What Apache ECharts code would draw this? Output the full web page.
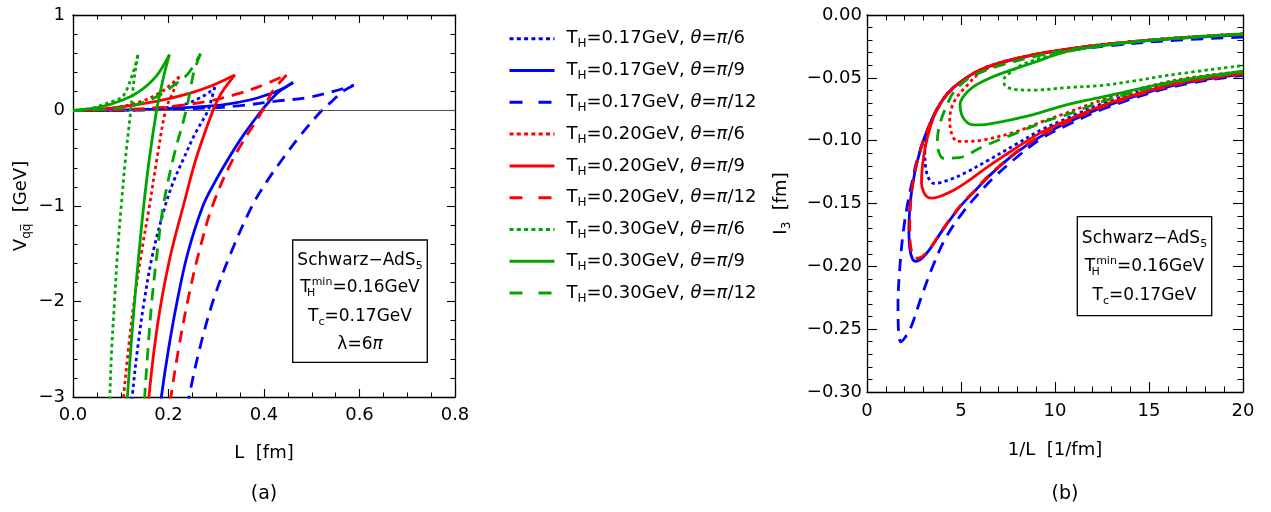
<!DOCTYPE html>
<html><head><meta charset="utf-8">
<script src="https://cdn.jsdelivr.net/npm/echarts@6/dist/echarts.min.js"></script>
<style>html,body{margin:0;padding:0;background:#fff}#c{width:1271px;height:512px}</style>
</head><body><div id="c"></div>
<script>
// ---------------- data ----------------
const temps = ['0.17', '0.20', '0.30'];          // T_H [GeV]
const thetas = ['π/6', 'π/9', 'π/12'];           // θ

// Panel (a): V_qq̄ [GeV] vs L [fm]; upper branch (0 -> cusp) and lower branch (cusp -> down)
const vUp_017_6  = [[0,0],[0.1,0.002],[0.175,0.02],[0.23,0.06],[0.265,0.13],[0.285,0.19],[0.297,0.245]];
const vLo_017_6  = [[0.297,0.245],[0.289,0.1],[0.283,0],[0.255,-0.25],[0.232,-0.5],[0.21,-0.75],[0.193,-1],[0.167,-1.5],[0.149,-2],[0.135,-2.5],[0.124,-3],[0.117,-3.4]];
const vUp_017_9  = [[0,0],[0.1,0.004],[0.2,0.02],[0.27,0.04],[0.32,0.065],[0.37,0.11],[0.41,0.17],[0.44,0.23],[0.461,0.294]];
const vLo_017_9  = [[0.461,0.294],[0.432,0.2],[0.412,0.1],[0.395,0],[0.358,-0.25],[0.326,-0.5],[0.297,-0.75],[0.272,-1],[0.24,-1.5],[0.218,-2],[0.2,-2.5],[0.185,-3],[0.176,-3.4]];
const vUp_017_12 = [[0,0],[0.15,0.005],[0.28,0.025],[0.35,0.05],[0.43,0.1],[0.49,0.135],[0.545,0.2],[0.588,0.265]];
const vLo_017_12 = [[0.588,0.265],[0.565,0.2],[0.543,0.1],[0.521,0],[0.478,-0.25],[0.44,-0.5],[0.405,-0.75],[0.375,-1],[0.33,-1.5],[0.293,-2],[0.265,-2.5],[0.243,-3],[0.23,-3.4]];
const vUp_020_6  = [[0,0],[0.07,0.015],[0.14,0.09],[0.18,0.18],[0.205,0.27],[0.222,0.355]];
const vLo_020_6  = [[0.222,0.355],[0.21,0.2],[0.194,0],[0.176,-0.5],[0.16,-1],[0.143,-1.5],[0.128,-2],[0.116,-2.5],[0.106,-3],[0.1,-3.4]];
const vUp_020_9  = [[0,0],[0.05,0.01],[0.104,0.04],[0.174,0.095],[0.244,0.18],[0.293,0.265],[0.339,0.372]];
const vLo_020_9  = [[0.339,0.372],[0.313,0.2],[0.302,0.1],[0.293,0],[0.258,-0.5],[0.231,-1],[0.205,-1.5],[0.185,-2],[0.17,-2.5],[0.159,-3],[0.152,-3.4]];
const vUp_020_12 = [[0,0],[0.1,0.008],[0.2,0.04],[0.28,0.095],[0.335,0.16],[0.39,0.25],[0.447,0.372]];
const vLo_020_12 = [[0.447,0.372],[0.418,0.2],[0.407,0.1],[0.397,0],[0.336,-0.5],[0.292,-1],[0.263,-1.5],[0.24,-2],[0.221,-2.5],[0.205,-3],[0.195,-3.4]];
const vUp_030_6  = [[0,0],[0.034,0.017],[0.056,0.05],[0.085,0.1],[0.105,0.15],[0.126,0.4],[0.136,0.584]];
const vLo_030_6  = [[0.136,0.584],[0.13,0.4],[0.125,0.2],[0.121,0],[0.11,-0.5],[0.101,-1],[0.093,-1.5],[0.087,-2],[0.081,-2.5],[0.077,-3],[0.074,-3.4]];
const vUp_030_9  = [[0,0],[0.056,0.035],[0.104,0.11],[0.139,0.2],[0.174,0.357],[0.202,0.584]];
const vLo_030_9  = [[0.202,0.584],[0.192,0.4],[0.183,0.2],[0.175,0],[0.16,-0.5],[0.148,-1],[0.138,-1.5],[0.129,-2],[0.121,-2.5],[0.114,-3],[0.109,-3.4]];
const vUp_030_12 = [[0,0],[0.09,0.02],[0.14,0.07],[0.185,0.17],[0.21,0.26],[0.24,0.38],[0.267,0.594]];
const vLo_030_12 = [[0.267,0.594],[0.253,0.4],[0.245,0.2],[0.237,0],[0.21,-0.5],[0.189,-1],[0.176,-1.5],[0.165,-2],[0.157,-2.5],[0.15,-3],[0.145,-3.4]];

// Panel (b): I_3 [fm] vs 1/L [1/fm] (upper branch -> nose -> lower branch)
const i3_017_6  = [[20,-0.0152],[16,-0.0188],[13,-0.0228],[10.6,-0.0272],[8.8,-0.0318],[7,-0.0382],[6,-0.0438],[5.3,-0.05],[4.4,-0.0605],[3.9,-0.0705],[3.5,-0.082],[3.2,-0.095],[3.08,-0.108],[3.12,-0.121],[3.28,-0.13],[3.55,-0.134],[4.4,-0.131],[5.3,-0.125],[6.4,-0.116],[7.8,-0.104],[9.2,-0.092],[10.6,-0.0825],[12.7,-0.0695],[16.3,-0.054],[20,-0.046]];
const i3_017_9  = [[20,-0.0158],[16,-0.0192],[13,-0.0232],[10.6,-0.0275],[8.8,-0.032],[7,-0.0385],[6,-0.044],[5.3,-0.0498],[4.4,-0.0605],[3.9,-0.0705],[3.5,-0.0815],[3,-0.0998],[2.65,-0.118],[2.45,-0.133],[2.3,-0.15],[2.23,-0.17],[2.28,-0.186],[2.42,-0.194],[2.6,-0.196],[3.15,-0.19],[4.03,-0.171],[4.92,-0.153],[5.8,-0.139],[6.5,-0.128],[7.9,-0.11],[9.2,-0.097],[10.6,-0.086],[12.7,-0.0725],[16.3,-0.056],[20,-0.047]];
const i3_017_12 = [[20,-0.0175],[16,-0.0205],[13,-0.0243],[10.6,-0.0283],[8.8,-0.0325],[7,-0.039],[6,-0.0445],[5.3,-0.0502],[4.4,-0.061],[3.9,-0.071],[3.5,-0.082],[3,-0.1],[2.6,-0.119],[2.4,-0.133],[2.2,-0.147],[1.95,-0.17],[1.75,-0.2],[1.65,-0.23],[1.67,-0.25],[1.8,-0.26],[2.05,-0.256],[2.35,-0.248],[2.9,-0.224],[3.5,-0.2],[4.2,-0.177],[5.1,-0.157],[6,-0.141],[6.7,-0.13],[7.9,-0.114],[9.2,-0.099],[10.6,-0.088],[12.7,-0.074],[16.3,-0.057],[20,-0.048]];
const i3_020_6  = [[20,-0.015],[16,-0.0187],[13,-0.0228],[10.6,-0.0272],[8.8,-0.032],[7,-0.039],[6,-0.046],[5.27,-0.057],[4.8,-0.065],[4.52,-0.073],[4.4,-0.083],[4.5,-0.094],[4.8,-0.1005],[5.3,-0.1005],[6.2,-0.0994],[7.9,-0.093],[9.2,-0.0855],[10.6,-0.078],[12.7,-0.0668],[16.3,-0.0522],[20,-0.045]];
const i3_020_9  = [[20,-0.015],[16,-0.0188],[13,-0.0228],[10.6,-0.0272],[8.8,-0.0318],[7,-0.0382],[6,-0.0438],[5.3,-0.0498],[4.4,-0.0605],[3.9,-0.0705],[3.55,-0.081],[3.22,-0.097],[3.02,-0.112],[2.92,-0.125],[2.9,-0.134],[3.02,-0.141],[3.2,-0.1448],[3.45,-0.1458],[4.4,-0.141],[5.3,-0.133],[6.4,-0.121],[7.8,-0.107],[9.2,-0.094],[10.6,-0.084],[12.7,-0.071],[16.3,-0.055],[20,-0.0465]];
const i3_020_12 = [[20,-0.0155],[16,-0.019],[13,-0.023],[10.6,-0.0274],[8.8,-0.032],[7,-0.0385],[6,-0.044],[5.3,-0.05],[4.4,-0.0607],[3.9,-0.0707],[3.5,-0.0815],[3,-0.1],[2.65,-0.118],[2.45,-0.133],[2.32,-0.15],[2.27,-0.17],[2.33,-0.185],[2.5,-0.1925],[2.68,-0.1935],[3.2,-0.1885],[4.03,-0.1705],[4.92,-0.1525],[5.8,-0.1385],[6.5,-0.1275],[7.9,-0.1095],[9.2,-0.0965],[10.6,-0.0857],[12.7,-0.0722],[16.3,-0.0558],[20,-0.047]];
const i3_030_6  = [[20,-0.0153],[16,-0.019],[13,-0.0235],[10.6,-0.029],[9.2,-0.0345],[8.2,-0.04],[7.6,-0.046],[7.3,-0.051],[7.3,-0.055],[7.55,-0.058],[8,-0.0595],[8.85,-0.0598],[10.6,-0.0578],[12.5,-0.056],[14.2,-0.0525],[16,-0.048],[20,-0.0402]];
const i3_030_9  = [[20,-0.0152],[16,-0.019],[13,-0.0235],[10.6,-0.0292],[8.8,-0.0382],[7.05,-0.047],[6.2,-0.0525],[5.65,-0.0572],[5.2,-0.0635],[4.95,-0.071],[5.05,-0.08],[5.35,-0.0858],[5.7,-0.0875],[6.3,-0.0872],[7.04,-0.0853],[8.8,-0.0795],[10.6,-0.0715],[12.6,-0.065],[16.3,-0.053],[20,-0.0447]];
const i3_030_12 = [[20,-0.0152],[16,-0.019],[13,-0.0232],[10.6,-0.028],[8.8,-0.0335],[7,-0.0405],[6,-0.046],[5.3,-0.0515],[4.6,-0.0615],[4.2,-0.0735],[3.9,-0.0855],[3.74,-0.1],[3.82,-0.109],[4.05,-0.114],[4.9,-0.1135],[6.16,-0.1047],[7.93,-0.094],[9.7,-0.0835],[10.6,-0.0795],[12.7,-0.068],[16.3,-0.0535],[20,-0.0455]];

// axis tick values [min, max, interval]
const ticksA_x = [0, 0.8, 0.2];
const ticksA_y = [-3, 1, 1];
const ticksB_x = [0, 20, 5];
const ticksB_y = [-0.3, 0, 0.05];

// ---------------- assembly ----------------
const panelA = [
  [vUp_017_6, vLo_017_6], [vUp_017_9, vLo_017_9], [vUp_017_12, vLo_017_12],
  [vUp_020_6, vLo_020_6], [vUp_020_9, vLo_020_9], [vUp_020_12, vLo_020_12],
  [vUp_030_6, vLo_030_6], [vUp_030_9, vLo_030_9], [vUp_030_12, vLo_030_12]
];
const panelB = [i3_017_6, i3_017_9, i3_017_12, i3_020_6, i3_020_9, i3_020_12, i3_030_6, i3_030_9, i3_030_12];

const FONT = 'DejaVu Sans';
const tColors = ['#0000ff', '#ff0000', '#00a500'];
const thetaDash = [[3.3, 3.3], 'solid', [12, 8]];
const legendDash = [[4, 3.3], 'solid', [13, 16]];

const names = [];
temps.forEach(t => thetas.forEach(th => names.push('T_H=' + t + 'GeV, θ=' + th)));

const minus = s => String(s).replace('-', '−');

const series = [];
series.push({
  type: 'line', name: 'zero', xAxisIndex: 0, yAxisIndex: 0, data: [], z: 1,
  markLine: { silent: true, symbol: 'none', animation: false, label: { show: false },
    lineStyle: { color: '#555', width: 1.1, type: 'solid' }, data: [{ yAxis: 0 }] }
});
names.forEach((nm, idx) => {
  const t = Math.floor(idx / 3), k = idx % 3;
  const ls = { color: tColors[t], width: 2.8, type: thetaDash[k], cap: 'butt' };
  const common = { type: 'line', name: nm, symbol: 'none', smooth: 0.35, lineStyle: ls, itemStyle: { color: tColors[t] }, z: 2 + idx, emphasis: { disabled: true } };
  series.push(Object.assign({}, common, { xAxisIndex: 0, yAxisIndex: 0, data: panelA[idx][0] }));
  series.push(Object.assign({}, common, { xAxisIndex: 0, yAxisIndex: 0, data: panelA[idx][1] }));
  series.push(Object.assign({}, common, { xAxisIndex: 2, yAxisIndex: 2, data: panelB[idx] }));
});

function axis(o) {
  const base = {
    type: 'value',
    axisLine: { show: true, onZero: false, lineStyle: { color: '#000', width: 1.3 } },
    axisTick: { show: true, inside: true, length: 8, lineStyle: { color: '#000', width: 1.1 } },
    minorTick: { show: true, length: 4.5, lineStyle: { color: '#000', width: 1 } },
    splitLine: { show: false },
    axisLabel: { color: '#000', fontFamily: FONT, fontSize: 18 }
  };
  return echarts.util.merge(base, o, true);
}

const nameStyle = {
  color: '#000', fontFamily: FONT, fontSize: 18,
  rich: {
    n: { fontFamily: FONT, fontSize: 18, color: '#000' },
    s: { fontFamily: FONT, fontSize: 12, color: '#000', padding: [11, 0, 0, 0] }
  }
};

const option = {
  animation: false,
  backgroundColor: '#fff',
  grid: [
    { left: 73, top: 15, width: 382, height: 382, outerBoundsMode: 'none' },
    { left: 867, top: 15, width: 376, height: 377, outerBoundsMode: 'none' }
  ],
  xAxis: [
    axis({ gridIndex: 0, position: 'bottom', min: ticksA_x[0], max: ticksA_x[1], interval: ticksA_x[2],
      minorTick: { splitNumber: 4 }, axisLabel: { margin: 9, formatter: v => v.toFixed(1) },
      name: 'L  [fm]', nameLocation: 'middle', nameGap: 47, nameTextStyle: nameStyle }),
    axis({ gridIndex: 0, position: 'top', min: ticksA_x[0], max: ticksA_x[1], interval: ticksA_x[2],
      minorTick: { splitNumber: 4 }, axisLabel: { show: false } }),
    axis({ gridIndex: 1, position: 'bottom', min: ticksB_x[0], max: ticksB_x[1], interval: ticksB_x[2],
      axisTick: { length: 10 }, minorTick: { splitNumber: 5, length: 5.5 },
      axisLabel: { margin: 10, formatter: v => String(v) },
      name: '1/L  [1/fm]', nameLocation: 'middle', nameGap: 49, nameTextStyle: nameStyle }),
    axis({ gridIndex: 1, position: 'top', min: ticksB_x[0], max: ticksB_x[1], interval: ticksB_x[2],
      axisTick: { length: 10 }, minorTick: { splitNumber: 5, length: 5.5 }, axisLabel: { show: false } })
  ],
  yAxis: [
    axis({ gridIndex: 0, position: 'left', min: ticksA_y[0], max: ticksA_y[1], interval: ticksA_y[2],
      minorTick: { splitNumber: 5 }, axisLabel: { margin: 8, formatter: v => minus(v) },
      name: '{n|V}{s|qq\u0305}{n|  [GeV]}', nameLocation: 'middle', nameGap: 40, nameTextStyle: nameStyle }),
    axis({ gridIndex: 0, position: 'right', min: ticksA_y[0], max: ticksA_y[1], interval: ticksA_y[2],
      minorTick: { splitNumber: 5 }, axisLabel: { show: false } }),
    axis({ gridIndex: 1, position: 'left', min: ticksB_y[0], max: ticksB_y[1], interval: ticksB_y[2],
      axisTick: { length: 10 }, minorTick: { splitNumber: 5, length: 5.5 },
      axisLabel: { margin: 5, formatter: v => minus(v.toFixed(2)) },
      name: '{n|I}{s|3}{n|  [fm]}', nameLocation: 'middle', nameGap: 74, nameTextStyle: nameStyle }),
    axis({ gridIndex: 1, position: 'right', min: ticksB_y[0], max: ticksB_y[1], interval: ticksB_y[2],
      axisTick: { length: 10 }, minorTick: { splitNumber: 5, length: 5.5 }, axisLabel: { show: false } })
  ],
  legend: {
    orient: 'vertical', left: 508, top: 29.7, padding: 0,
    itemWidth: 45, itemHeight: 14, itemGap: 11.3, selectedMode: false,
    itemStyle: { opacity: 0 },
    data: names.map((nm, i) => ({ name: nm, itemStyle: { opacity: 0 }, lineStyle: { type: legendDash[i % 3], width: 3, cap: 'butt', opacity: 1 } })),
    formatter: nm => {
      const m = nm.match(/^T_H=(.*), θ=π(.*)$/);
      return '{f|T}{s|H}{t|=' + m[1] + ', }{i|θ}{t|=}{i|π}{t|' + m[2] + '}';
    },
    textStyle: {
      color: '#000', fontFamily: FONT, fontSize: 18,
      rich: {
        f: { fontFamily: FONT, fontSize: 18, color: '#000', lineHeight: 24, padding: [0, 0, 0, 7] },
        t: { fontFamily: FONT, fontSize: 18, color: '#000', lineHeight: 24 },
        i: { fontFamily: FONT, fontSize: 18, color: '#000', lineHeight: 24, fontStyle: 'italic' },
        s: { fontFamily: FONT, fontSize: 12, color: '#000', padding: [11, 0, 0, 0] }
      }
    }
  },
  graphic: [
    { type: 'rect', shape: { x: 292.7, y: 240, width: 134.6, height: 122.3 }, style: { fill: '#fff', stroke: '#000', lineWidth: 1.3 }, z: 50 },
    { type: 'rect', shape: { x: 1077.3, y: 216.7, width: 134.4, height: 99 }, style: { fill: '#fff', stroke: '#000', lineWidth: 1.3 }, z: 50 }
  ],
  series: series
};

const boxRich = {
  s: { fontFamily: FONT, fontSize: 11, fill: '#000', padding: [10, 0, 0, 0] },
  h: { fontFamily: FONT, fontSize: 11, fill: '#000', padding: [10, 0, 0, 0], width: 1, align: 'left' },
  m: { fontFamily: FONT, fontSize: 11, fill: '#000', padding: [0, 0, 11, 0] },
  i: { fontFamily: FONT, fontSize: 17, fill: '#000', fontStyle: 'italic' }
};
function boxText(x, y, txt) {
  return { type: 'text', x: x, y: y, z: 51,
    style: { text: txt, fontFamily: FONT, fontSize: 17, fill: '#000', align: 'center', verticalAlign: 'middle', rich: boxRich } };
}
option.graphic.push(
  boxText(360, 261, 'Schwarz−AdS{s|5}'),
  boxText(360, 288, 'T{h|H}{m|min}=0.16GeV'),
  boxText(360, 317, 'T{s|c}=0.17GeV'),
  boxText(360, 345, 'λ=6{i|π}'),
  boxText(1144.5, 239, 'Schwarz−AdS{s|5}'),
  boxText(1144.5, 267, 'T{h|H}{m|min}=0.16GeV'),
  boxText(1144.5, 296, 'T{s|c}=0.17GeV'),
  { type: 'text', x: 264, y: 494, style: { text: '(a)', fontFamily: FONT, fontSize: 19, fill: '#000', align: 'center', verticalAlign: 'middle' } },
  { type: 'text', x: 1065, y: 494, style: { text: '(b)', fontFamily: FONT, fontSize: 19, fill: '#000', align: 'center', verticalAlign: 'middle' } }
);

const chart = echarts.init(document.getElementById('c'));
chart.setOption(option);
</script>
</body></html>
